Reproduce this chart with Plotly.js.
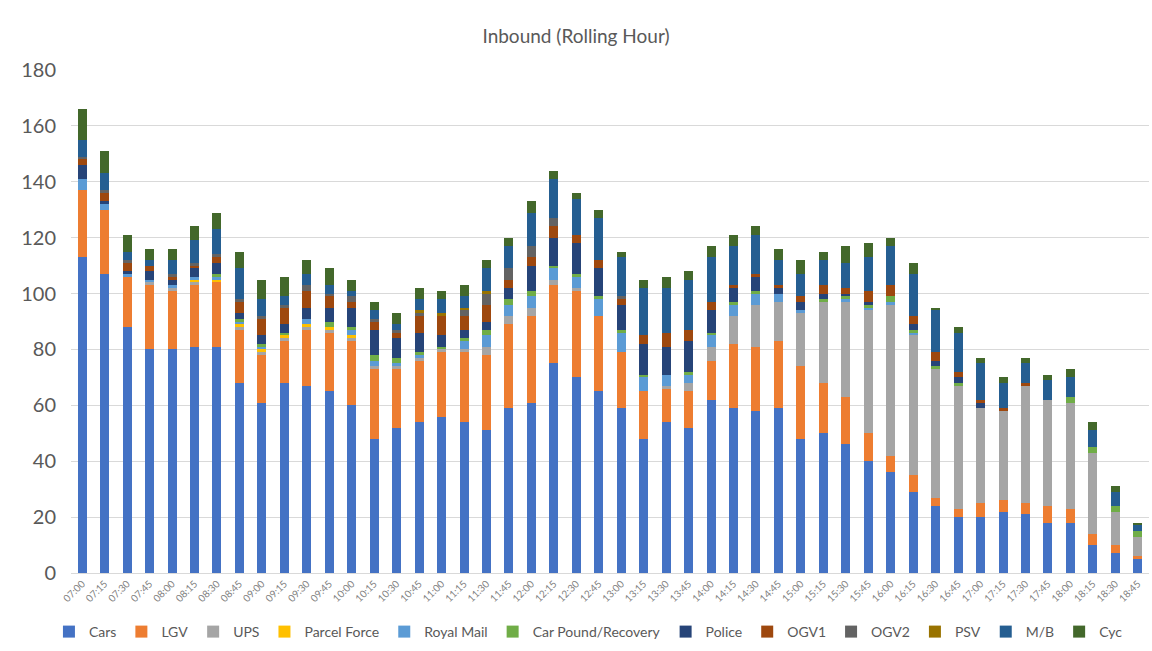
<!DOCTYPE html>
<html>
<head>
<meta charset="utf-8">
<script src="https://cdn.plot.ly/plotly-3.0.1.min.js"></script>
<style>
html,body{margin:0;padding:0;background:#fff;}
#chart{width:1152px;height:651px;}
</style>
</head>
<body>
<div id="chart"></div>
<script>
const times = ["07:00","07:15","07:30","07:45","08:00","08:15","08:30","08:45","09:00","09:15","09:30","09:45","10:00","10:15","10:30","10:45","11:00","11:15","11:30","11:45","12:00","12:15","12:30","12:45","13:00","13:15","13:30","13:45","14:00","14:15","14:30","14:45","15:00","15:15","15:30","15:45","16:00","16:15","16:30","16:45","17:00","17:15","17:30","17:45","18:00","18:15","18:30","18:45"];

const cars   = [113,107,88,80,80,81,81,68,61,68,67,65,60,48,52,54,56,54,51,59,61,75,70,65,59,48,54,52,62,59,58,59,48,50,46,40,36,29,24,20,20,22,21,18,18,10,7,5];
const lgv    = [24,23,18,23,21,22,23,19,17,15,20,21,23,25,21,22,23,25,27,30,31,28,31,27,20,17,12,13,14,23,23,24,26,18,17,10,6,6,3,3,5,4,4,6,5,4,3,1];
const ups    = [0,0,0,1,1,1,0,1,1,1,1,1,1,1,1,1,1,1,3,3,3,2,1,0,0,0,1,3,5,10,15,14,19,29,34,44,54,50,46,44,34,32,42,38,38,29,12,7];
const parcelForce = [0,0,0,0,0,1,1,1,1,1,1,1,1,0,0,0,0,0,0,0,0,0,0,0,0,0,0,0,0,0,0,0,0,0,0,0,0,0,0,0,0,0,0,0,0,0,0,0];
const royalMail   = [4,2,1,1,1,1,1,1,1,0,2,0,2,2,1,1,0,3,4,4,4,4,4,6,7,5,4,3,4,4,4,3,1,0,1,1,1,1,0,0,0,0,0,0,0,0,0,0];
const carPound    = [0,0,0,0,0,0,1,1,1,1,0,2,1,2,2,1,1,1,2,2,2,1,1,1,1,1,0,1,1,1,1,0,0,1,1,1,2,1,1,1,0,0,0,0,2,2,2,2];
const police = [5,1,1,3,2,3,4,2,3,3,4,5,7,9,7,7,4,3,3,4,9,10,11,10,9,11,10,11,8,5,5,2,3,2,1,1,0,2,2,2,2,0,0,0,0,0,0,0];
const ogv1   = [2,3,3,2,1,1,2,4,6,6,6,4,2,3,2,6,7,5,6,3,3,4,3,3,2,3,5,4,3,1,1,1,2,3,2,4,4,3,3,2,1,1,1,0,0,0,0,0];
const ogv2   = [1,1,1,0,1,1,1,1,1,1,2,1,2,1,1,1,0,2,4,4,4,3,0,0,1,0,0,0,0,0,0,0,0,0,0,0,0,0,0,0,0,0,0,0,0,0,0,0];
const psv    = [0,0,0,0,0,0,0,0,0,0,0,0,0,0,0,1,1,1,1,0,0,0,0,0,0,0,0,0,0,0,0,0,0,0,0,0,0,0,0,0,0,0,0,0,0,0,0,0];
const mb     = [6,6,3,2,5,8,9,11,6,3,4,3,2,3,2,4,5,4,8,8,12,14,13,15,14,17,16,18,16,14,14,9,8,9,9,12,14,15,15,14,13,9,7,7,7,6,5,2];
const cyc    = [11,8,6,4,4,5,6,6,7,7,5,6,4,3,4,4,3,4,3,3,4,3,2,3,2,3,4,3,4,4,3,4,5,3,6,5,3,4,1,2,2,2,2,2,3,3,2,1];

const seriesNames = ["Cars","LGV","UPS","Parcel Force","Royal Mail","Car Pound/Recovery","Police","OGV1","OGV2","PSV","M/B","Cyc"];
const seriesData  = [cars,lgv,ups,parcelForce,royalMail,carPound,police,ogv1,ogv2,psv,mb,cyc];
const seriesColors = ["#4472C4","#ED7D31","#A5A5A5","#FFC000","#5B9BD5","#70AD47","#264478","#9E480E","#636363","#997300","#255E91","#43682B"];

const traces = seriesNames.map((n,i)=>({
  type:"bar", name:n, x:times, y:seriesData[i],
  marker:{color:seriesColors[i], line:{width:0}},
  hoverinfo:"x+y+name"
}));

const font = "Lato, 'Open Sans', sans-serif";
const layout = {
  width:1152, height:651,
  barmode:"stack",
  bargap:0.6,
  paper_bgcolor:"#fff", plot_bgcolor:"#fff",
  margin:{l:71,r:3,t:70,b:78},
  title:{text:"Inbound (Rolling Hour)", x:0.5, xanchor:"center", y:1-36/651, yanchor:"middle", yref:"container",
         font:{family:font, size:19, color:"#595959"}},
  xaxis:{type:"category", tickangle:-45, tickfont:{family:font,size:10,color:"#7f7f7f"},
         showgrid:false, showline:true, linecolor:"#D9D9D9", linewidth:1, ticks:"", automargin:false},
  yaxis:{range:[0,180], dtick:20, tickfont:{family:font,size:20,color:"#595959"},
         ticklabelstandoff:14,
         gridcolor:"#D9D9D9", gridwidth:1, zeroline:false, showline:false, ticks:"", automargin:false},
  legend:{orientation:"h", x:0.48, xanchor:"center", yref:"container", y:1-632/651, yanchor:"middle",
          bgcolor:"rgba(0,0,0,0)",
          font:{family:font,size:14,color:"#595959"}, traceorder:"normal", itemwidth:30, tracegroupgap:0},
  showlegend:true
};

Plotly.newPlot("chart", traces, layout, {displayModeBar:false, staticPlot:true});
</script>
</body>
</html>
